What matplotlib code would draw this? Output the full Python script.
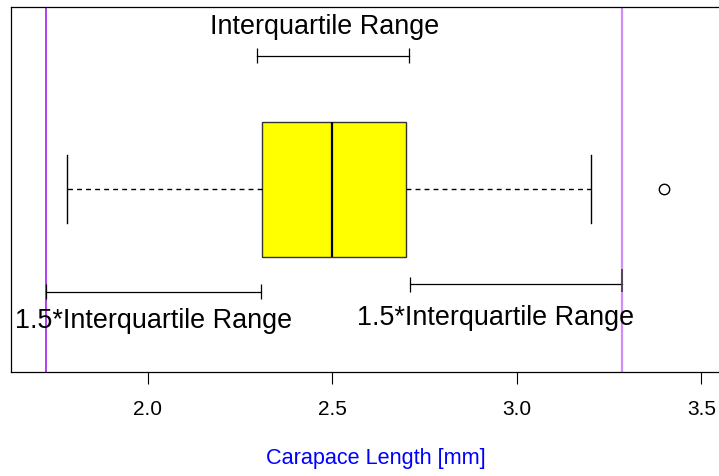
import matplotlib
matplotlib.use("Agg")
import matplotlib.pyplot as plt

plt.rcParams["font.family"] = ["Liberation Sans", "DejaVu Sans"]

# five-number summary of carapace length [mm]
q1, med, q3 = 2.31, 2.50, 2.70
whisk_lo, whisk_hi = 1.78, 3.20
outliers = [3.4]

iqr = q3 - q1
fence_lo = q1 - 1.5 * iqr
fence_hi = q3 + 1.5 * iqr

# bracket spans for the labels
iqr_span = [2.295, 2.708]
left_span = [fence_lo, 2.306]
right_span = [2.71, fence_hi]

tick_vals = [2.0, 2.5, 3.0, 3.5]
tick_labels = ["2.0", "2.5", "3.0", "3.5"]

fig = plt.figure(figsize=(7.19, 4.77), dpi=100)
ax = fig.add_axes([11 / 719, 104 / 477, 730 / 719, 365.5 / 477])

stats = [dict(med=med, q1=q1, q3=q3, whislo=whisk_lo, whishi=whisk_hi,
              fliers=outliers)]
ax.bxp(stats, positions=[1], widths=0.4, capwidths=0.2,
       orientation="horizontal", patch_artist=True,
       boxprops=dict(facecolor="yellow", edgecolor="#333333", lw=1),
       medianprops=dict(color="black", lw=1.6),
       whiskerprops=dict(color="black", lw=1, ls=(0, (3.5, 3))),
       capprops=dict(color="black", lw=1),
       flierprops=dict(marker="o", markerfacecolor="none",
                       markeredgecolor="black", markersize=7.5, mew=1))

ax.axvline(fence_lo, color="#A020F0", lw=1.2, zorder=0)
ax.axvline(fence_hi, color="#A020F0", lw=1.6, alpha=0.5, zorder=0)

def bracket(span, y, t_lo, t_hi):
    ax.plot(span, [y, y], color="black", lw=0.9)
    ax.vlines(span[0], y - t_lo, y + t_hi, color="black", lw=0.9)
    ax.vlines(span[1], y - t_lo, y + t_hi, color="black", lw=0.9)

bracket(iqr_span, 1.394, 0.022, 0.022)
bracket(left_span, 0.697, 0.022, 0.022)
ax.plot(right_span, [0.72, 0.72], color="black", lw=0.9)
ax.vlines(right_span[0], 0.697, 0.742, color="black", lw=0.9)
ax.vlines(right_span[1], 0.697, 0.765, color="#444444", lw=1.3)

fs = 19.4
ax.text(2.48, 1.482, "Interquartile Range", ha="center", va="center", fontsize=fs)
ax.text(sum(left_span) / 2, 0.614, "1.5*Interquartile Range",
        ha="center", va="center", fontsize=fs)
ax.text(2.943, 0.622, "1.5*Interquartile Range",
        ha="center", va="center", fontsize=fs)

ax.set_xlim(1.629, 1.629 + 730 / 369)
ax.set_ylim(0.46, 1.54)
ax.set_yticks([])
ax.set_xticks(tick_vals, tick_labels)
ax.tick_params(axis="x", length=8.6, width=0.8, pad=11, labelsize=15)
ax.spines["right"].set_visible(False)
for s in ["left", "top", "bottom"]:
    ax.spines[s].set_linewidth(0.9)
ax.set_xlabel("Carapace Length [mm]", color="blue", fontsize=15.6, labelpad=21)

fig.savefig("out.png", dpi=100)
